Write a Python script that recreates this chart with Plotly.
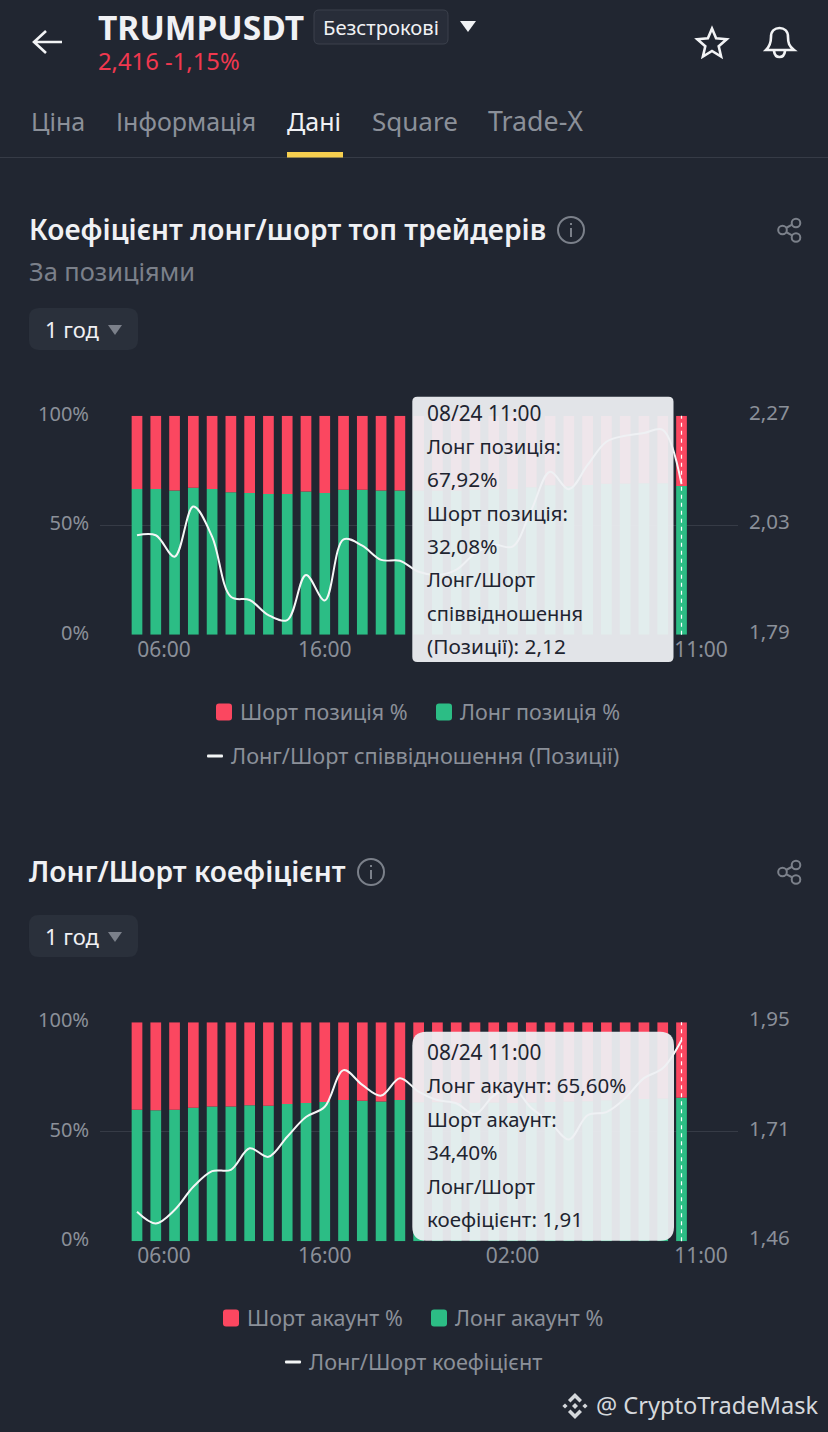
import math
import re
import plotly.graph_objects as go

W, H = 828, 1432
BG = "#212631"
RED = "#fb4760"
GREEN = "#2cbd85"
GRID = "#363b46"
GREY = "#8b9099"
FONT = "Noto Sans"

# ---- data ----
HOUR_LABELS = ["06:00", "16:00", "02:00", "11:00"]
TOP_HOUR_LABELS = ["06:00", "16:00", "11:00"]
BAR_INDEX = list(range(30))

TOP_LONG = [66.5, 66.5, 65.9, 67.1, 66.5, 65.1, 64.7, 64.2, 64.2, 65.4,
            64.7, 66.2, 66.2, 65.9, 65.8, 65.8, 65.8, 65.9, 66.3, 66.5,
            66.5, 67.3, 68.2, 67.8, 68.4, 68.9, 69.0, 69.1, 69.1, 67.92]
TOP_SHORT = [33.5, 33.5, 34.1, 32.9, 33.5, 34.9, 35.3, 35.8, 35.8, 34.6,
             35.3, 33.8, 33.8, 34.1, 34.2, 34.2, 34.2, 34.1, 33.7, 33.5,
             33.5, 32.7, 31.8, 32.2, 31.6, 31.1, 31.0, 30.9, 30.9, 32.08]
TOP_RATIO = [2.008, 2.008, 1.961, 2.071, 2.005, 1.873, 1.866, 1.833, 1.822, 1.921,
             1.865, 1.999, 1.985, 1.954, 1.952, 1.928, 1.921, 1.932, 1.968, 1.987,
             1.983, 2.063, 2.147, 2.109, 2.162, 2.213, 2.226, 2.232, 2.239, 2.12]

ACC_LONG = [60.1, 59.8, 60.1, 61.0, 61.5, 61.6, 62.1, 61.9, 62.7, 63.2,
            63.6, 64.5, 64.2, 63.8, 64.5, 63.5, 63.5, 63.2, 63.3, 63.4,
            63.2, 63.4, 63.6, 63.8, 64.0, 64.4, 64.8, 65.0, 65.2, 65.6]
ACC_SHORT = [39.9, 40.2, 39.9, 39.0, 38.5, 38.4, 37.9, 38.1, 37.3, 36.8,
             36.4, 35.5, 35.8, 36.2, 35.5, 36.5, 36.5, 36.8, 36.7, 36.6,
             36.8, 36.6, 36.4, 36.2, 36.0, 35.6, 35.2, 35.0, 34.8, 34.4]
ACC_RATIO = [1.526, 1.500, 1.530, 1.582, 1.617, 1.620, 1.668, 1.649, 1.694, 1.738,
             1.761, 1.843, 1.810, 1.786, 1.825, 1.795, 1.776, 1.769, 1.744, 1.786,
             1.803, 1.758, 1.727, 1.688, 1.742, 1.749, 1.780, 1.825, 1.847, 1.91]

TOP_RIGHT_TICKS = ["1,79", "2,03", "2,27"]
ACC_RIGHT_TICKS = ["1,46", "1,71", "1,95"]
TOP_TIP = ["08/24 11:00", "Лонг позиція:", "67,92%", "Шорт позиція:", "32,08%",
           "Лонг/Шорт", "співвідношення", "(Позиції): 2,12"]
ACC_TIP = ["08/24 11:00", "Лонг акаунт: 65,60%", "Шорт акаунт:", "34,40%",
           "Лонг/Шорт", "коефіцієнт: 1,91"]


# ---- pixel helpers (page chrome only) ----
def PX(x):
    return x / W


def PY(y):
    return 1 - y / H


def path(d):
    it = iter(range(10 ** 6))

    def rep(m):
        v = float(m.group(0))
        return f"{PX(v):.5f}" if next(it) % 2 == 0 else f"{PY(v):.5f}"

    return re.sub(r"-?\d+\.?\d*", rep, d)


def rrect(x0, y0, x1, y1, r):
    return (f"M {x0+r} {y0} L {x1-r} {y0} Q {x1} {y0} {x1} {y0+r} L {x1} {y1-r} "
            f"Q {x1} {y1} {x1-r} {y1} L {x0+r} {y1} Q {x0} {y1} {x0} {y1-r} "
            f"L {x0} {y0+r} Q {x0} {y0} {x0+r} {y0} Z")


shapes, annos = [], []


def shape_path(d, fill=None, line=None, width=0, layer="above"):
    s = dict(type="path", path=path(d), xref="paper", yref="paper", layer=layer,
             line=dict(color=line or "rgba(0,0,0,0)", width=width))
    if fill:
        s["fillcolor"] = fill
    shapes.append(s)


def circle(cx, cy, r, line, width=2):
    shapes.append(dict(type="circle", xref="paper", yref="paper",
                       x0=PX(cx - r), x1=PX(cx + r), y0=PY(cy + r), y1=PY(cy - r),
                       line=dict(color=line, width=width)))


def text(x, y, s, size, color, anchor="left", weight=400, font=FONT):
    annos.append(dict(x=PX(x), y=PY(y - 1), xref="paper", yref="paper", text=s, showarrow=False,
                      xanchor=anchor, yanchor="middle", align=anchor,
                      font=dict(family=font, size=size, color=color, weight=weight),
                      borderpad=0, borderwidth=0))


# ---- figure ----
fig = go.Figure()
X_L, X_R = 100, 738
C0, DX = 137.0, 18.776
x_range = [(X_L - C0) / DX, (X_R - C0) / DX]
TOP_TICK_POS = [(164 - C0) / DX, 10, (701 - C0) / DX]
ACC_TICK_POS = [(164 - C0) / DX, 10, 20, (701 - C0) / DX]


def add_chart(long_v, short_v, ratio, long_name, short_name, ratio_name, suffix,
              top_px, bot_px, rng, rticks, tick_pos, tick_text):
    a = suffix
    ya = 2 * a - 1
    yb = 2 * a
    xn = "x" if a == 1 else f"x{a}"
    yan = "y" if ya == 1 else f"y{ya}"
    ybn = f"y{yb}"
    fig.add_trace(go.Bar(x=BAR_INDEX, y=long_v, name=long_name, marker=dict(color=GREEN, line_width=0),
                         xaxis=xn, yaxis=yan, width=0.57, offsetgroup=str(a)))
    fig.add_trace(go.Bar(x=BAR_INDEX, y=short_v, name=short_name, marker=dict(color=RED, line_width=0),
                         xaxis=xn, yaxis=yan, width=0.57, offsetgroup=str(a), base=long_v))
    fig.add_trace(go.Scatter(x=BAR_INDEX, y=ratio, name=ratio_name, mode="lines",
                             line=dict(color="#f4f6f6", width=2, shape="spline", smoothing=1.0),
                             xaxis=xn, yaxis=ybn))
    dom = [PY(bot_px), PY(top_px)]
    xkey = "xaxis" if a == 1 else f"xaxis{a}"
    fig.update_layout({
        xkey: dict(domain=[PX(X_L), PX(X_R)], range=x_range, type="linear", anchor=yan,
                   tickmode="array", tickvals=tick_pos, ticktext=tick_text, ticks="",
                   showgrid=False, zeroline=False, showline=False, automargin=False,
                   tickfont=dict(family=FONT, size=21, color=GREY)),
        ("yaxis" if ya == 1 else f"yaxis{ya}"): dict(
            domain=dom, range=[0, 100], anchor=xn, tickmode="array", tickvals=[0, 50, 100],
            ticktext=["0%", "50%", "100%"], showgrid=True, gridcolor=GRID, gridwidth=1, zeroline=False,
            automargin=False, tickfont=dict(family=FONT, size=20, color=GREY), ticks="",
            ticklabelstandoff=10, ticklabelshift=-2),
        f"yaxis{yb}": dict(
            domain=dom, range=rng, anchor=xn, overlaying=yan, side="right", tickmode="array",
            tickvals=[rng[0], (rng[0] + rng[1]) / 2, rng[1]], ticktext=rticks,
            showgrid=False, zeroline=False, ticks="", ticklabelstandoff=10, ticklabelshift=-3,
            automargin=False, tickfont=dict(family=FONT, size=20.5, color=GREY)),
    })
    shapes.append(dict(type="line", xref=xn, yref=f"{yan} domain", x0=29, x1=29, y0=0, y1=1, layer="above",
                       line=dict(color="#ffffff", width=1.2, dash="4px,4px")))


add_chart(TOP_LONG, TOP_SHORT, TOP_RATIO, "Лонг позиція %", "Шорт позиція %",
          "Лонг/Шорт співвідношення (Позиції)", 1, 415.7, 634.7, [1.79, 2.27], TOP_RIGHT_TICKS,
          TOP_TICK_POS, TOP_HOUR_LABELS)
add_chart(ACC_LONG, ACC_SHORT, ACC_RATIO, "Лонг акаунт %", "Шорт акаунт %",
          "Лонг/Шорт коефіцієнт", 2, 1022.3, 1241.3, [1.46, 1.95], ACC_RIGHT_TICKS,
          ACC_TICK_POS, HOUR_LABELS)

# ---- tooltips ----
TIP = "rgba(238,240,243,0.94)"
shape_path(rrect(412.3, 396.7, 673.5, 662, 5), fill=TIP)
shape_path(rrect(412.3, 1031.7, 674, 1240.7, 14), fill=TIP)
for s, y, sz in zip(TOP_TIP, [414, 447, 480, 514, 547, 580, 614, 647],
                    [20.9, 20.2, 20.8, 20.2, 20.8, 20, 20, 20.8]):
    text(427, y, s, sz, "#1e2430")
for s, y, sz in zip(ACC_TIP, [1053, 1086, 1120, 1153, 1187, 1220],
                    [20.9, 20.5, 20.2, 20.8, 20, 20.5]):
    text(427, y, s, sz, "#1e2430")

# ---- header ----
shape_path("M 62 42 L 35 42 M 46 31 L 34 42 L 46 53", line="#f2f3f5", width=2.6)
text(98, 28, "TRUMPUSDT", 33.6, "#f0f1f4", weight=700)
shape_path(rrect(314, 10, 448, 44, 5), fill="#282d39", line="#3c414d", width=1)
text(381, 28, "Безстрокові", 20.2, "#f0f1f4", anchor="center")
shape_path("M 460 21 L 476 21 L 468 32 Z", fill="#f0f1f4")
text(98, 62, "2,416 -1,15%", 23.8, "#f0384f")
# star
pts = []
for i in range(10):
    r = 15.5 if i % 2 == 0 else 7
    ang = -math.pi / 2 + i * math.pi / 5
    pts.append((712 + r * math.cos(ang), 44 + r * math.sin(ang)))
shape_path("M " + " L ".join(f"{a:.1f} {b:.1f}" for a, b in pts) + " Z", line="#f2f3f5", width=2.6)
# bell
shape_path("M 766 50 C 770 46 771 43 771 37 C 771 31 775 28 779.5 28 C 784 28 788 31 788 37 "
           "C 788 43 789 46 794 50 Z M 774 51 C 775 59 784 59 785 51",
           line="#f2f3f5", width=2.6)
# tabs
for s, x, c, sz in [("Ціна", 31, GREY, 25), ("Інформація", 116, GREY, 25), ("Дані", 287, "#f0f1f4", 25),
                    ("Square", 372, GREY, 26), ("Trade-X", 488, GREY, 26.8)]:
    text(x, 122, s, sz, c)
shape_path("M 0 157.5 L 828 157.5", line=GRID, width=1)
shape_path("M 287 152 L 343 152 L 343 157.5 L 287 157.5 Z", fill="#f6cf4f")


def section(title, title_y, info_x, chip_y):
    text(29, title_y, title, 28.15, "#f0f1f4", weight=600)
    circle(info_x, title_y, 13, "#7b808a")
    shape_path(f"M {info_x} {title_y-2} L {info_x} {title_y+7}", line="#7b808a", width=2)
    shape_path(f"M {info_x} {title_y-7} L {info_x} {title_y-5}", line="#7b808a", width=2)
    # share icon
    yy = title_y
    for cx, cy in [(796, yy - 7), (782.5, yy), (796, yy + 7.5)]:
        circle(cx, cy, 4.3, "#7b808a")
    shape_path(f"M 786 {yy-2} L 792.5 {yy-5.5} M 786 {yy+2} L 792.5 {yy+5.5}", line="#7b808a", width=2)
    shape_path(rrect(29, chip_y, 138, chip_y + 42, 10), fill="#2a303b")
    text(45, chip_y + 22, "1 год", 22, "#f0f1f4")
    shape_path(f"M 108 {chip_y+17} L 122 {chip_y+17} L 115 {chip_y+27} Z", fill="#7b808a")


section("Коефіцієнт лонг/шорт топ трейдерів", 230, 571, 308)
text(29, 272, "За позиціями", 25.4, "#7b808a")
section("Лонг/Шорт коефіцієнт", 872, 371, 915)


# ---- legends ----
def legend(items, line_item):
    for kind, x, y, s in items:
        shape_path(rrect(x, y - 8.5, x + 16, y + 8.5, 3), fill=kind)
        text(x + 23.5, y, s, 21.5, GREY)
    x, y, s = line_item
    shape_path(rrect(x, y - 1.6, x + 16, y + 1.6, 1), fill="#f4f6f6")
    text(x + 24, y, s, 21.7, GREY)


legend([(RED, 216, 712, "Шорт позиція %"), (GREEN, 436, 712, "Лонг позиція %")],
       (207, 756, "Лонг/Шорт співвідношення (Позиції)"))
legend([(RED, 223, 1318, "Шорт акаунт %"), (GREEN, 431, 1318, "Лонг акаунт %")],
       (285, 1362, "Лонг/Шорт коефіцієнт"))

# ---- watermark ----
LOGO = "#d5d8dc"
cx, cy = 575, 1406
shape_path(f"M {cx} {cy-13} L {cx+7} {cy-6} L {cx+4.5} {cy-3.5} L {cx} {cy-8} L {cx-4.5} {cy-3.5} L {cx-7} {cy-6} Z", fill=LOGO)
shape_path(f"M {cx} {cy+13} L {cx+7} {cy+6} L {cx+4.5} {cy+3.5} L {cx} {cy+8} L {cx-4.5} {cy+3.5} L {cx-7} {cy+6} Z", fill=LOGO)
for dx, r in [(0, 3), (-10, 2.6), (10, 2.6)]:
    shape_path(f"M {cx+dx} {cy-r} L {cx+dx+r} {cy} L {cx+dx} {cy+r} L {cx+dx-r} {cy} Z", fill=LOGO)
text(596, 1406, "@ CryptoTradeMask", 23.6, LOGO)

fig.update_layout(
    width=W, height=H, margin=dict(l=0, r=0, t=0, b=0), autosize=False,
    paper_bgcolor=BG, plot_bgcolor=BG, barmode="overlay", showlegend=False,
    separators=", ", shapes=shapes, annotations=annos, font=dict(family=FONT),
)
fig.write_html("out.html", config=dict(displayModeBar=False),
               post_script="document.body.style.margin='0';document.body.style.overflow='hidden';")
